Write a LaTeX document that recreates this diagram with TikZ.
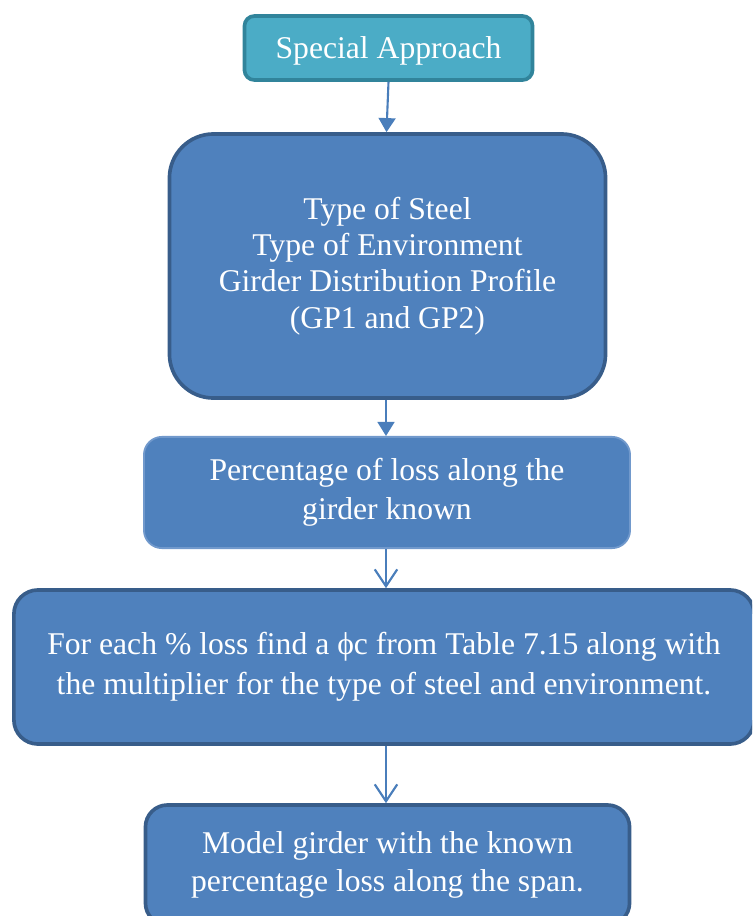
\documentclass[tikz,border=0pt]{standalone}
\usepackage{fontspec}
\setmainfont{Liberation Serif}
\usepackage{tikz}
\usetikzlibrary{arrows,arrows.meta,positioning,calc}
\definecolor{approachfill}{HTML}{4BACC6}
\definecolor{approachline}{HTML}{31849B}
\definecolor{stepfill}{HTML}{4F81BD}
\definecolor{stepline}{HTML}{385D8A}
\definecolor{steplight}{HTML}{7199CC}
\definecolor{arrowblue}{HTML}{4A7EBB}
\tikzset{
	block/.style = {draw=stepline, fill=stepfill, rectangle, line width=2.6pt, text=white, align=center, inner sep=0pt, font=\fontsize{22.5}{27.6}\selectfont},
	startblock/.style = {block, draw=approachline, fill=approachfill, rounded corners=0.25cm},
	lightblock/.style = {block, draw=steplight, line width=1.3pt},
	fillarrow/.style = {draw=arrowblue, line width=1.5pt, -{Triangle[length=10pt,width=12pt]}},
	openarrow/.style = {draw=arrowblue, line width=1.5pt, -{Straight Barb[length=12pt,width=16pt]}}
}

\begin{document}
\begin{tikzpicture}[auto,x=0.025cm,y=-0.025cm]
\clip (0,0) rectangle (752,916);
\node [startblock, minimum width=7.2cm, minimum height=1.6cm, text depth=0pt] (approach) at (388.5,48) {Special Approach};
\node [block, rounded corners=1.1cm, minimum width=10.9cm, minimum height=6.6cm, font=\fontsize{22.5}{25.9}\selectfont] (inputs) at (387.5,266) {Type of Steel\\Type of Environment\\Girder Distribution Profile\\(GP1 and GP2)};
\node [lightblock, rounded corners=0.45cm, minimum width=12.15cm, minimum height=2.78cm] (loss) at (387,492.5) {Percentage of loss along the\\girder known};
\node [block, rounded corners=0.6cm, minimum width=18.5cm, minimum height=3.85cm, font=\fontsize{22.5}{28.3}\selectfont] (factor) at (384,667) {For each \% loss find a ϕc from Table 7.15 along with\\the multiplier for the type of steel and environment.};
\node [block, rounded corners=0.55cm, minimum width=12.1cm, minimum height=3.0cm] (model) at (387.5,865) {Model girder with the known\\percentage loss along the span.};

\draw [fillarrow] (approach.south) -- ($(inputs.north)+(-1,0)$);
\draw [fillarrow] ($(inputs.south)+(-1.5,0)$) -- ($(loss.north)+(-1,0)$);
\draw [openarrow] ($(loss.south)+(-1,0)$) -- ($(loss.south |- factor.north)+(-1,0)$);
\draw [openarrow] ($(factor.south -| model.north)+(-1.5,0)$) -- ($(model.north)+(-1.5,0)$);
\end{tikzpicture}
\end{document}
